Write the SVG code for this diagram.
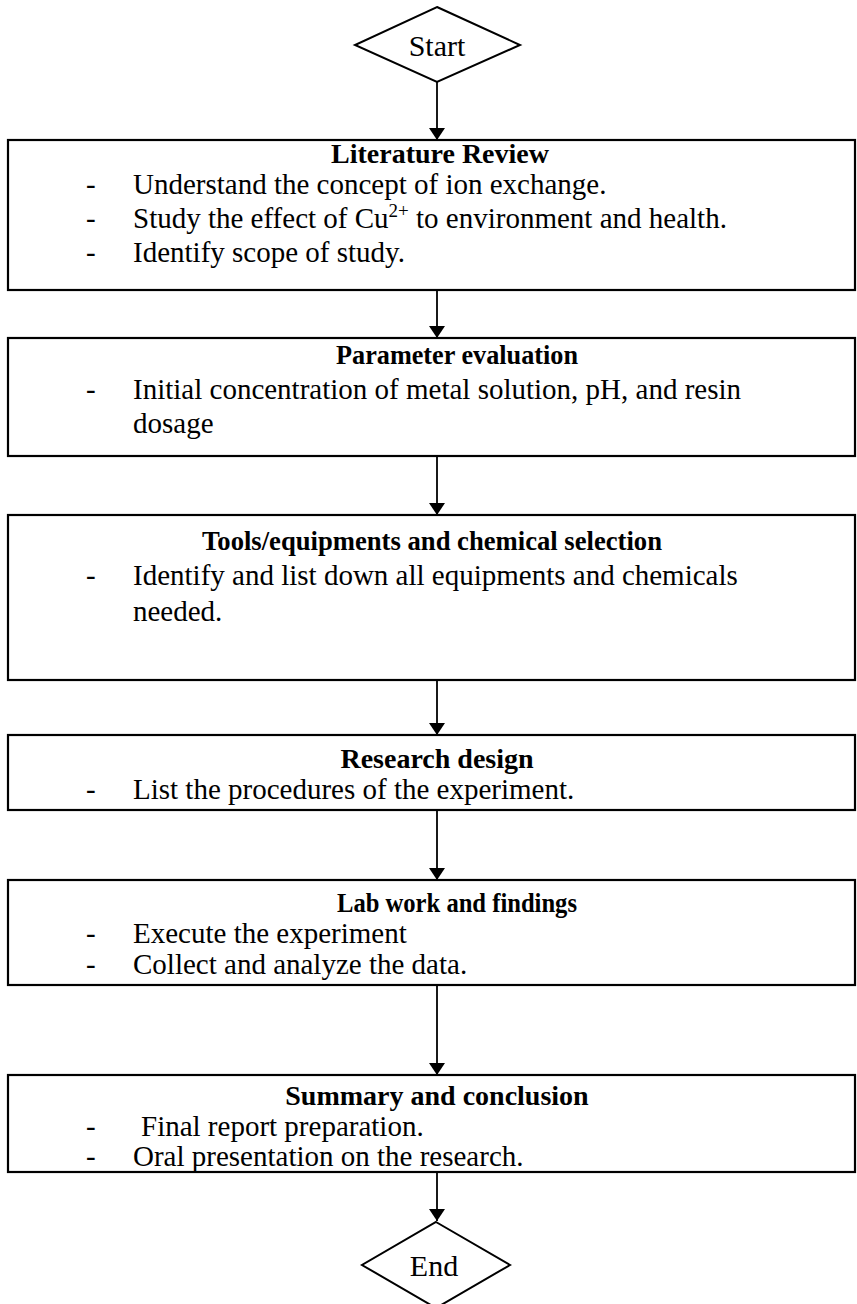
<svg xmlns="http://www.w3.org/2000/svg" width="857" height="1304" viewBox="0 0 857 1304">
  <defs>
    <marker id="arrow" viewBox="0 0 12 16" refX="12" refY="8" markerWidth="12" markerHeight="16" markerUnits="userSpaceOnUse" orient="auto">
      <path d="M0,0 L12,8 L0,16 Z" fill="#000"/>
    </marker>
    <style>
      .box { fill: #fff; stroke: #000; stroke-width: 2.2; }
      .dia { fill: #fff; stroke: #000; stroke-width: 2; }
      .conn { fill: none; stroke: #000; stroke-width: 1.8; marker-end: url(#arrow); }
      text { font-family: "Liberation Serif", "Times New Roman", serif; fill: #000; }
      .title { font-size: 28px; font-weight: bold; text-anchor: middle; }
      .body { font-size: 29px; }
      .term { font-size: 30px; text-anchor: middle; }
    </style>
  </defs>
  <rect x="0" y="0" width="857" height="1304" fill="#fff"/>

  <g id="connectors">
    <line class="conn" x1="437" y1="82" x2="437" y2="140"/>
    <line class="conn" x1="437" y1="290" x2="437" y2="338"/>
    <line class="conn" x1="437" y1="456" x2="437" y2="515"/>
    <line class="conn" x1="437" y1="680" x2="437" y2="735"/>
    <line class="conn" x1="437" y1="810" x2="437" y2="880"/>
    <line class="conn" x1="437" y1="985" x2="437" y2="1075"/>
    <line class="conn" x1="437" y1="1172" x2="437" y2="1221"/>
  </g>

  <g id="start">
    <polygon class="dia" points="437,7 520,45 437,82 355,45"/>
    <text class="term" x="437" y="56">Start</text>
  </g>

  <g id="literature-review">
    <rect class="box" x="8" y="140" width="847" height="150"/>
    <text class="title" x="440" y="163">Literature Review</text>
    <text class="body" x="86" y="194">-</text>
    <text class="body" x="133" y="194">Understand the concept of ion exchange.</text>
    <text class="body" x="86" y="228">-</text>
    <text class="body" x="133" y="228">Study the effect of Cu<tspan font-size="19" dy="-11">2+</tspan><tspan dy="11"> to environment and health.</tspan></text>
    <text class="body" x="86" y="262">-</text>
    <text class="body" x="133" y="262">Identify scope of study.</text>
  </g>

  <g id="parameter-evaluation">
    <rect class="box" x="8" y="338" width="847" height="118"/>
    <text class="title" x="457" y="364" textLength="242" lengthAdjust="spacingAndGlyphs">Parameter evaluation</text>
    <text class="body" x="86" y="399">-</text>
    <text class="body" x="133" y="399">Initial concentration of metal solution, pH, and resin</text>
    <text class="body" x="133" y="433">dosage</text>
  </g>

  <g id="tools-selection">
    <rect class="box" x="8" y="515" width="847" height="165"/>
    <text class="title" x="432" y="550" textLength="460" lengthAdjust="spacingAndGlyphs">Tools/equipments and chemical selection</text>
    <text class="body" x="86" y="585">-</text>
    <text class="body" x="133" y="585">Identify and list down all equipments and chemicals</text>
    <text class="body" x="133" y="621">needed.</text>
  </g>

  <g id="research-design">
    <rect class="box" x="8" y="735" width="847" height="75"/>
    <text class="title" x="437" y="768">Research design</text>
    <text class="body" x="86" y="799">-</text>
    <text class="body" x="133" y="799">List the procedures of the experiment.</text>
  </g>

  <g id="lab-work">
    <rect class="box" x="8" y="880" width="847" height="105"/>
    <text class="title" x="457" y="912" textLength="240" lengthAdjust="spacingAndGlyphs">Lab work and findings</text>
    <text class="body" x="86" y="943">-</text>
    <text class="body" x="133" y="943">Execute the experiment</text>
    <text class="body" x="86" y="974">-</text>
    <text class="body" x="133" y="974">Collect and analyze the data.</text>
  </g>

  <g id="summary-conclusion">
    <rect class="box" x="8" y="1075" width="847" height="97"/>
    <text class="title" x="437" y="1105">Summary and conclusion</text>
    <text class="body" x="86" y="1136">-</text>
    <text class="body" x="141" y="1136">Final report preparation.</text>
    <text class="body" x="86" y="1166">-</text>
    <text class="body" x="133" y="1166">Oral presentation on the research.</text>
  </g>

  <g id="end">
    <polygon class="dia" points="436,1222 510,1265 436,1308 362,1265"/>
    <text class="term" x="434" y="1276">End</text>
  </g>
</svg>
